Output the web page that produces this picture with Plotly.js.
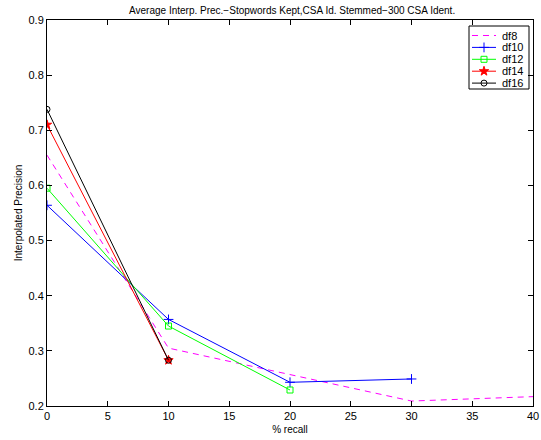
<!DOCTYPE html>
<html>
<head>
<meta charset="utf-8">
<script src="https://cdn.plot.ly/plotly-3.0.1.min.js"></script>
<style>html,body{margin:0;padding:0;background:#fff;}#chart{width:541px;height:440px;}</style>
</head>
<body>
<div id="chart"></div>
<script>
// recall levels (%) and averaged interpolated precision per run
const recall8 = [0, 10, 20, 30, 40];
const df8 = [0.655, 0.305, 0.257, 0.209, 0.217];
const recall10 = [0, 10, 20, 30];
const df10 = [0.564, 0.357, 0.243, 0.249];
const recall12 = [0, 10, 20];
const df12 = [0.595, 0.345, 0.229];
const recall14 = [0, 10];
const df14 = [0.710, 0.283];
const recall16 = [0, 10];
const df16 = [0.738, 0.283];
const seriesNames = ['df8', 'df10', 'df12', 'df14', 'df16'];
const xTicks = [0, 5, 10, 15, 20, 25, 30, 35, 40];
const yTicks = [0.2, 0.3, 0.4, 0.5, 0.6, 0.7, 0.8, 0.9];

const font = 'Liberation Sans, Arial, Helvetica, sans-serif';

const W = 541, H = 440;
const M = {l: 47, r: 8, t: 20, b: 34};
// pixel -> paper fraction helpers for the compact legend box
const pw = W - M.l - M.r, ph = H - M.t - M.b;
const px = x => (x - M.l) / pw;
const py = y => (H - M.b - y) / ph;

const styles = [
  {color: '#ff00ff', dash: '6px,5px', symbol: null, size: 0},
  {color: '#0000ff', dash: 'solid', symbol: 'cross-thin-open', size: 7},
  {color: '#00ff00', dash: 'solid', symbol: 'square-open', size: 6},
  {color: '#ff0000', dash: 'solid', symbol: 'star', size: 7},
  {color: '#000000', dash: 'solid', symbol: 'circle-open', size: 6}
];
const xs = [recall8, recall10, recall12, recall14, recall16];
const ys = [df8, df10, df12, df14, df16];

const traces = xs.map((x, i) => {
  const s = styles[i];
  const t = {x: x, y: ys[i], name: seriesNames[i], type: 'scatter',
    mode: s.symbol ? 'lines+markers' : 'lines',
    line: {color: s.color, width: 1, dash: s.dash}, showlegend: false};
  if (s.symbol) t.marker = {symbol: s.symbol, size: s.size, color: s.color, line: {width: 1, color: s.color}};
  return t;
});

// legend box drawn in paper space (sits below the traces)
const legTop = 35.5, legStep = 11.9;
const legX0 = 472, legX1 = 496, legText = 500;
const shapes = [{type: 'rect', xref: 'paper', yref: 'paper',
  x0: px(469), x1: px(529), y0: py(26), y1: py(89),
  line: {color: '#000', width: 1}, fillcolor: '#fff', layer: 'below'}];
const annotations = [];
seriesNames.forEach((n, i) => {
  const yy = legTop + i * legStep;
  shapes.push({type: 'line', xref: 'paper', yref: 'paper', x0: px(legX0), x1: px(legX1), y0: py(yy), y1: py(yy),
    line: {color: styles[i].color, width: 1, dash: i === 0 ? '6px,5px' : 'solid'}, layer: 'below'});
  annotations.push({xref: 'paper', yref: 'paper', x: px(legText), y: py(yy), xanchor: 'left', yanchor: 'middle',
    text: n, showarrow: false, font: {family: font, size: 11, color: '#000'}});
  if (styles[i].symbol) {
    traces.push({x: [px((legX0 + legX1) / 2)], y: [py(yy)], xaxis: 'x2', yaxis: 'y2', type: 'scatter',
      mode: 'markers', showlegend: false, hoverinfo: 'skip', cliponaxis: false,
      marker: {symbol: styles[i].symbol, size: styles[i].size, color: styles[i].color,
               line: {width: 1, color: styles[i].color}}});
  }
});

const axisCommon = {
  showgrid: false, zeroline: false, showline: true, mirror: 'ticks',
  linecolor: '#000', linewidth: 1, ticks: 'inside', ticklen: 5, tickcolor: '#000',
  tickfont: {family: font, size: 11, color: '#000'}
};

const layout = {
  width: W, height: H,
  margin: M,
  paper_bgcolor: '#fff', plot_bgcolor: 'rgba(0,0,0,0)',
  title: {text: 'Average Interp. Prec.\u2212Stopwords Kept,CSA Id. Stemmed\u2212300 CSA Ident.',
          font: {family: font, size: 10, color: '#000'}, x: 0.54, xanchor: 'center', y: 0.985, yanchor: 'top'},
  xaxis: Object.assign({}, axisCommon, {
    range: [0, 40], tickvals: xTicks, ticktext: xTicks.map(String),
    title: {text: '% recall', font: {family: font, size: 10, color: '#000'}, standoff: 4}
  }),
  yaxis: Object.assign({}, axisCommon, {
    range: [0.2, 0.9], tickvals: yTicks, ticktext: yTicks.map(v => v.toFixed(1)),
    title: {text: 'Interpolated Precision', font: {family: font, size: 10, color: '#000'}, standoff: 4}
  }),
  xaxis2: {overlaying: 'x', range: [0, 1], visible: false, fixedrange: true},
  yaxis2: {overlaying: 'y', range: [0, 1], visible: false, fixedrange: true},
  showlegend: false,
  shapes: shapes,
  annotations: annotations
};

Plotly.newPlot('chart', traces, layout, {displayModeBar: false, staticPlot: true});
</script>
</body>
</html>
